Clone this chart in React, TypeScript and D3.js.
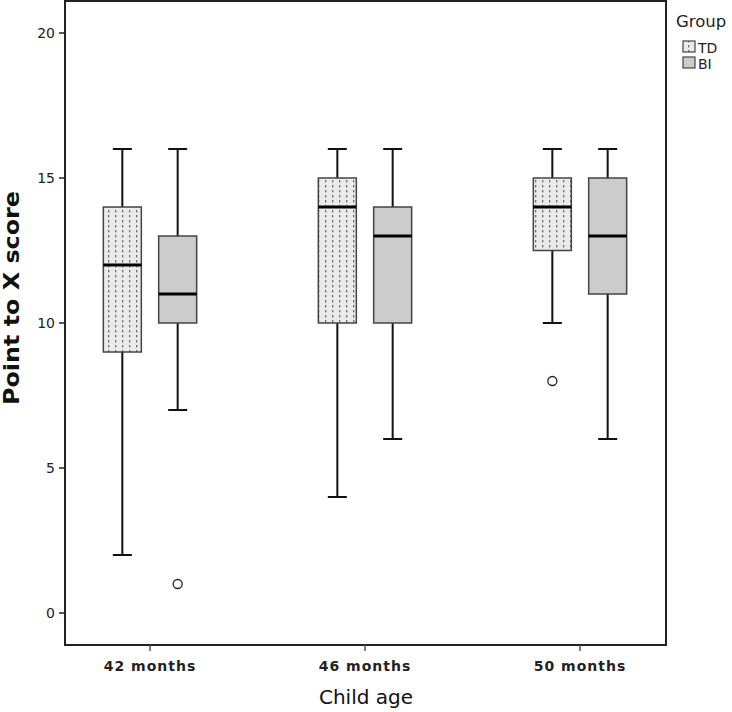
import React from "react";
import * as d3 from "d3";

const categories = ["42 months", "46 months", "50 months"];
const groups = ["TD", "BI"];
// [min, q1, median, q3, max] per category for each group
const tdStats = [
  [2, 9, 12, 14, 16],
  [4, 10, 14, 15, 16],
  [10, 12.5, 14, 15, 16],
];
const biStats = [
  [7, 10, 11, 13, 16],
  [6, 10, 13, 14, 16],
  [6, 11, 13, 15, 16],
];
const tdOutliers = [[], [], [8]];
const biOutliers = [[1], [], []];
const yTicks = [0, 5, 10, 15, 20];

const W = 732;
const H = 712;
const left = 65;
const right = 666;
const top = 1;
const bottom = 645;

export default function App() {
  const y = d3.scaleLinear().domain([0, 20]).range([613, 33]);
  const x = d3.scalePoint().domain(categories).range([150, 580]);
  const gx = d3.scaleBand().domain(groups).range([-41.5, 41.5]).paddingInner(0.5);
  const bw = 38;
  const fills: Record<string, string> = { TD: "url(#dots)", BI: "#cccccc" };
  const stats: Record<string, number[][]> = { TD: tdStats, BI: biStats };
  const outs: Record<string, number[][]> = { TD: tdOutliers, BI: biOutliers };
  const font = "'DejaVu Sans', sans-serif";

  return (
    <svg width={W} height={H} style={{ position: "absolute", left: 0, top: 0 }}>
      <defs>
        <pattern id="dots" patternUnits="userSpaceOnUse" width={7} height={5} x={0} y={0}>
          <rect width={7} height={5} fill="#ebebeb" />
          <rect x={3} y={0} width={1.3} height={2.4} fill="#6e6e6e" />
        </pattern>
        <pattern id="dotsLeg" patternUnits="userSpaceOnUse" width={12} height={5} x={683} y={0}>
          <rect width={12} height={5} fill="#ebebeb" />
          <rect x={5} y={0} width={1.3} height={2.4} fill="#6e6e6e" />
        </pattern>
      </defs>
      <rect x={0} y={0} width={W} height={H} fill="#fff" />
      {/* frame */}
      <rect x={left} y={top} width={right - left} height={bottom - top} fill="none" stroke="#222" strokeWidth={2} />
      {/* y ticks */}
      {yTicks.map((t) => (
        <g key={t}>
          <line x1={left - 6} x2={left} y1={y(t)} y2={y(t)} stroke="#222" strokeWidth={1.5} />
          <text x={left - 10} y={y(t) + 5} textAnchor="end" fontFamily={font} fontSize={14} fill="#222">
            {t}
          </text>
        </g>
      ))}
      {/* x ticks */}
      {categories.map((c) => (
        <g key={c}>
          <line x1={x(c)!} x2={x(c)!} y1={bottom} y2={bottom + 6} stroke="#555" strokeWidth={1.5} />
          <text x={x(c)!} y={bottom + 26} textAnchor="middle" fontFamily={font} fontSize={14} fontWeight="bold" fill="#222" letterSpacing={1}>
            {c}
          </text>
        </g>
      ))}
      <text x={366} y={704} textAnchor="middle" fontFamily={font} fontSize={20} fill="#111">
        Child age
      </text>
      <text transform="translate(19,298) rotate(-90)" textAnchor="middle" fontFamily={font} fontSize={21} fontWeight="bold" fill="#111" textLength={214} lengthAdjust="spacingAndGlyphs">
        Point to X score
      </text>
      {/* boxes */}
      {groups.map((g) =>
        categories.map((c, i) => {
          const [mn, q1, md, q3, mx] = stats[g][i];
          const cx = x(c)! + gx(g)! + gx.bandwidth() / 2;
          return (
            <g key={g + c}>
              <line x1={cx} x2={cx} y1={y(mx)} y2={y(q3)} stroke="#111" strokeWidth={2} />
              <line x1={cx} x2={cx} y1={y(q1)} y2={y(mn)} stroke="#111" strokeWidth={2} />
              <line x1={cx - 9.5} x2={cx + 9.5} y1={y(mx)} y2={y(mx)} stroke="#111" strokeWidth={2} />
              <line x1={cx - 9.5} x2={cx + 9.5} y1={y(mn)} y2={y(mn)} stroke="#111" strokeWidth={2} />
              <rect x={cx - bw / 2} y={y(q3)} width={bw} height={y(q1) - y(q3)} fill={fills[g]} stroke="#444" strokeWidth={1.5} />
              <line x1={cx - bw / 2} x2={cx + bw / 2} y1={y(md)} y2={y(md)} stroke="#000" strokeWidth={3} />
              {outs[g][i].map((o, k) => (
                <circle key={k} cx={cx} cy={y(o)} r={4.5} fill="#fff" stroke="#222" strokeWidth={1.3} />
              ))}
            </g>
          );
        })
      )}
      {/* legend */}
      <text x={676} y={27} fontFamily={font} fontSize={16.5} fill="#222">
        Group
      </text>
      <rect x={683} y={41} width={12} height={11} fill="url(#dotsLeg)" stroke="#444" strokeWidth={1.2} />
      <text x={698} y={53} fontFamily={font} fontSize={14} fill="#222">TD</text>
      <rect x={683} y={57} width={12} height={11} fill="#cccccc" stroke="#444" strokeWidth={1.2} />
      <text x={698} y={69} fontFamily={font} fontSize={14} fill="#222">BI</text>
    </svg>
  );
}
